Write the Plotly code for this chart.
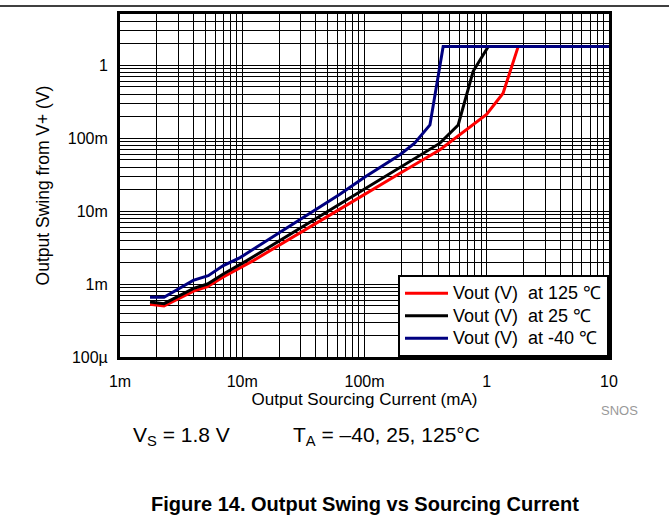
import plotly.graph_objects as go

# Output sourcing current (mA) and output swing from V+ (V) per temperature
current_125c = [0.00176, 0.00229, 0.0040, 0.0052, 0.0070, 0.0123, 0.0629, 0.100, 0.200, 0.414, 0.996, 1.36, 1.81, 10]
swing_125c = [0.000526, 0.000499, 0.00080, 0.00092, 0.00125, 0.00209, 0.0106, 0.017, 0.0337, 0.069, 0.211, 0.41, 1.8, 1.8]

current_25c = [0.00176, 0.00229, 0.0040, 0.0052, 0.0070, 0.0109, 0.0629, 0.100, 0.200, 0.414, 0.584, 0.774, 1.03, 10]
swing_25c = [0.000565, 0.000538, 0.00087, 0.00100, 0.00137, 0.00209, 0.0125, 0.020, 0.0408, 0.085, 0.151, 0.82, 1.8, 1.8]

current_m40c = [0.00176, 0.00229, 0.00397, 0.00527, 0.0070, 0.0096, 0.0629, 0.100, 0.195, 0.257, 0.343, 0.44, 10]
swing_m40c = [0.00066, 0.00066, 0.00112, 0.0013, 0.00179, 0.0023, 0.017, 0.029, 0.059, 0.085, 0.151, 1.8, 1.8]

series_names = ["Vout (V)\u00a0 at 125 \u2103", "Vout (V)\u00a0 at 25 \u2103", "Vout (V)\u00a0 at -40 \u2103"]
series_colors = ["#ff0000", "#000000", "#000080"]

x_tick_vals = [0.001, 0.01, 0.1, 1, 10]
x_tick_text = ["1m", "10m", "100m", "1", "10"]
y_tick_vals = [0.0001, 0.001, 0.01, 0.1, 1]
y_tick_text = ["100\u00b5", "1m", "10m", "100m", "1"]

FONT = "Liberation Sans, Arial, sans-serif"
W, H = 669, 522
L, R, T, B = 120, 60, 11, 165


def minor_grid(decades):
    return [m * 10 ** d for d in decades for m in range(2, 10)]


def px(x):
    return (x - L) / (W - L - R)


def py(y):
    return (H - B - y) / (H - T - B)


fig = go.Figure()
for xs, ys, name, color in zip(
    [current_125c, current_25c, current_m40c],
    [swing_125c, swing_25c, swing_m40c],
    series_names,
    series_colors,
):
    # legend rows are spaced by the legend font; the label itself is drawn larger
    fig.add_trace(go.Scatter(x=xs, y=ys, mode="lines",
                             name=f'<span style="font-size:18px">{name}</span>',
                             line=dict(color=color, width=3)))

axis_common = dict(
    type="log",
    showline=True, linewidth=3, linecolor="black", mirror=True,
    showgrid=True, gridcolor="black", gridwidth=1,
    ticks="", tickfont=dict(family=FONT, size=16, color="black"),
)

fig.update_xaxes(
    **axis_common,
    range=[-3, 1],
    tickvals=x_tick_vals, ticktext=x_tick_text,
    ticklabelstandoff=8,
    minor=dict(tickvals=minor_grid(range(-3, 1)), showgrid=True,
               gridcolor="black", gridwidth=1, ticks=""),
    title=dict(text="Output Sourcing Current (mA)", standoff=3,
               font=dict(family=FONT, size=17, color="black")),
)
fig.update_yaxes(
    **axis_common,
    range=[-4, 0.69897],
    tickvals=y_tick_vals, ticktext=y_tick_text,
    ticklabelstandoff=6,
    minor=dict(tickvals=minor_grid(range(-4, 1)), showgrid=True,
               gridcolor="black", gridwidth=1, ticks=""),
    title=dict(text="Output Swing from V+ (V)", standoff=14,
               font=dict(family=FONT, size=17.5, color="black")),
)

fig.update_layout(
    width=W, height=H,
    margin=dict(l=L, r=R, t=T, b=B),
    paper_bgcolor="white", plot_bgcolor="white",
    font=dict(family=FONT, color="black"),
    legend=dict(
        x=1, y=0, xanchor="right", yanchor="bottom",
        bgcolor="white", bordercolor="black", borderwidth=2,
        itemwidth=43,
        font=dict(family=FONT, size=15, color="black"),
    ),
    shapes=[dict(type="line", xref="paper", yref="paper",
                 x0=px(0), x1=px(W), y0=py(3), y1=py(3),
                 line=dict(color="black", width=1.5))],
    annotations=[
        dict(text="V<sub>S</sub> = 1.8 V", x=px(131), y=py(437),
             xref="paper", yref="paper", xanchor="left", yanchor="middle",
             showarrow=False, font=dict(family=FONT, size=21, color="black")),
        dict(text="T<sub>A</sub> = \u201340, 25, 125\u00b0C", x=px(291), y=py(437),
             xref="paper", yref="paper", xanchor="left", yanchor="middle",
             showarrow=False, font=dict(family=FONT, size=21, color="black")),
        dict(text="SNOS", x=px(619), y=py(411),
             xref="paper", yref="paper", xanchor="center", yanchor="middle",
             showarrow=False, font=dict(family=FONT, size=13, color="#999999")),
        dict(text="<b>Figure 14. Output Swing vs Sourcing Current</b>", x=px(365), y=py(505),
             xref="paper", yref="paper", xanchor="center", yanchor="middle",
             showarrow=False, font=dict(family=FONT, size=20, color="black")),
    ],
)

fig.write_html("out.html")
